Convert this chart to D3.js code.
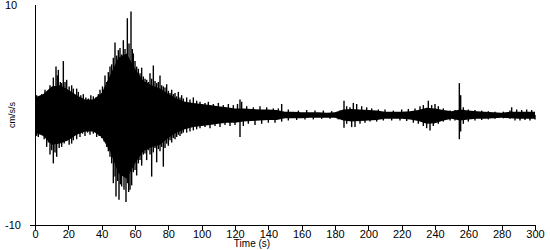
<!DOCTYPE html>
<html lang="en">
<head>
<meta charset="UTF-8">
<title>Acceleration record</title>
<script src="https://cdnjs.cloudflare.com/ajax/libs/d3/7.8.5/d3.min.js"></script>
<style>
  body { margin: 0; background: white; }
  text { font-family: "Liberation Sans", Arial, sans-serif; fill: black; }
</style>
</head>
<body>
<div id="chart"></div>
<script>
  const width = 550;
  const height = 250;

  // envelope of the dense black core, every 5 s
  const envTimes = d3.range(0, 301, 5);
  const envTop = [1.6, 1.9, 2.6, 2.7, 2.3, 1.8, 1.4, 1.4, 2.0, 3.6,
                  5.2, 5.6, 4.2, 3.1, 2.7, 2.4, 1.9, 1.5, 1.2, 1.1,
                  1.0, 0.9, 0.8, 0.7, 0.6, 0.6, 0.55, 0.5, 0.5, 0.45,
                  0.3, 0.3, 0.25, 0.25, 0.25, 0.2, 0.25, 0.5, 0.55, 0.5,
                  0.45, 0.4, 0.3, 0.3, 0.3, 0.35, 0.45, 0.65, 0.6, 0.45,
                  0.35, 0.5, 0.4, 0.35, 0.3, 0.25, 0.2, 0.3, 0.3, 0.3, 0.3];
  const envBottom = [-1.6, -1.9, -2.7, -2.6, -2.3, -1.8, -1.5, -1.5, -2.0, -3.3,
                     -5.3, -5.8, -4.4, -3.3, -2.9, -2.7, -2.1, -1.6, -1.3, -1.1,
                     -1.0, -0.9, -0.8, -0.7, -0.7, -0.6, -0.55, -0.5, -0.45, -0.45,
                     -0.3, -0.3, -0.3, -0.25, -0.25, -0.25, -0.25, -0.5, -0.6, -0.55,
                     -0.5, -0.45, -0.35, -0.35, -0.35, -0.4, -0.55, -0.8, -0.75, -0.5,
                     -0.35, -0.5, -0.4, -0.35, -0.35, -0.3, -0.25, -0.3, -0.35, -0.35, -0.35];

  // individual peaks [time, value]
  const peaks = [
    [1, 1.8], [2.5, 1.7], [4, 1.9], [6, 2.3], [7.5, 2.0], [9, 2.7], [10, 2.4], [11, 3.4],
    [12.6, 4.4], [13.4, 3.6], [14, 4.1], [15.2, 3.0], [16, 2.9], [17, 4.9], [18, 3.0],
    [19, 3.2], [20.5, 2.6], [22, 2.7], [23, 2.4], [25, 2.4], [26, 2.1], [27.5, 1.8],
    [29, 1.9], [30.5, 1.6], [32, 1.5], [33.5, 1.8], [35, 1.7], [36.5, 1.6], [38, 1.9],
    [39, 2.3], [40.5, 2.6], [42, 3.6], [43, 3.0], [44, 3.9], [45, 4.4],
    [46, 4.6], [47, 5.2], [48, 6.6], [49, 5.4], [50, 5.9], [51, 6.1], [52, 5.5], [53, 6.8],
    [54, 6.0], [55.4, 8.8], [56.4, 6.5], [57.6, 9.4], [58.4, 6.0], [59, 5.6], [60, 4.9],
    [61, 4.4], [62, 4.2], [63, 3.8], [64, 4.3], [65, 3.5],
    [66, 3.3], [67, 3.2], [68, 3.0], [69, 3.8], [70, 3.3], [71, 4.5], [72, 3.1], [73, 2.9],
    [74, 3.0], [75, 3.6], [76, 2.7], [77, 2.6], [78, 2.5], [79, 2.8], [80, 2.2], [81, 2.0],
    [82, 2.3], [83, 1.9], [84, 2.0], [85, 1.7], [86, 2.1], [87, 1.6], [88, 1.8], [89, 1.5],
    [91, 1.6], [93, 1.4], [95, 1.6], [97, 1.3], [99, 1.2], [102, 1.1], [104, 1.2], [107, 1.0],
    [110, 1.1], [113, 0.9], [116, 1.0], [119, 0.9], [121.5, 1.0], [123, 1.4], [124, 1.2],
    [127, 0.8], [131, 0.7], [135, 0.8], [139, 0.7], [143, 0.6], [146, 0.6], [148, 1.0],
    [152, 0.5], [158, 0.4], [163, 0.45], [168, 0.4], [173, 0.4], [178, 0.35], [183, 0.4],
    [185.4, 1.3], [187, 0.8], [189, 0.7], [191, 1.1], [193, 1.0], [196, 0.8], [199, 0.7],
    [202, 0.6], [206, 0.5], [210, 0.5], [215, 0.4], [220, 0.5], [224, 0.55], [228, 0.6],
    [231, 0.8], [233, 0.9], [236, 1.3], [238, 0.9], [240, 1.0], [242, 0.8], [245, 0.6],
    [249, 0.4], [252, 0.45], [254.6, 2.9], [255.4, 1.8], [257, 0.7], [260, 0.5], [264, 0.45],
    [268, 0.4], [272, 0.35], [276, 0.3], [281, 0.3], [285, 0.4], [286, 0.7], [289, 0.5],
    [292, 0.45], [295, 0.5], [298, 0.45]
  ];

  // individual troughs [time, value]
  const troughs = [
    [1, -1.9], [2, -2.0], [4, -1.8], [5.5, -2.2], [7, -2.9], [8, -2.5], [9, -3.6], [10, -3.2],
    [11, -4.4], [12, -3.4], [13, -3.8], [14.5, -3.0], [16, -2.9], [17.5, -2.6], [19, -2.3],
    [20.5, -2.7], [22, -2.6], [23, -2.3], [25, -2.2], [27, -2.0], [28.5, -1.7], [30, -1.9],
    [31.5, -1.6], [33, -1.8], [35, -1.7], [37, -2.0], [38.5, -1.9], [40, -2.1], [41.5, -2.4],
    [43, -2.9], [44, -3.3], [45, -3.8],
    [46, -4.4], [47, -6.2], [48, -5.6], [48.6, -7.4], [49.5, -6.0], [50.4, -7.7], [51.2, -6.3],
    [52, -6.5], [53.4, -6.8], [54.6, -7.9], [55.5, -6.2], [56.2, -7.0], [57, -6.8], [58, -6.4],
    [59, -5.2], [60, -5.0], [61, -5.5], [62, -4.4], [63, -4.1], [64, -4.6], [65, -3.6],
    [66, -3.5], [67, -4.1], [68, -3.2], [69, -3.6], [70, -5.6], [71, -3.4], [72, -3.0],
    [73, -4.3], [74, -3.1], [75, -3.3], [76, -2.9], [77, -4.7], [78, -3.0], [79, -2.6],
    [80, -2.8], [81, -2.3], [82, -2.5], [83, -2.1], [84, -2.2], [85, -2.0], [86, -1.8],
    [87, -1.9], [88, -1.7], [89, -1.6],
    [91, -1.6], [93, -1.5], [95, -1.4], [97, -1.3], [99, -1.2], [102, -1.1], [105, -1.2],
    [108, -1.0], [111, -1.1], [114, -0.9], [117, -1.0], [120, -0.9], [123, -2.0], [125, -1.0],
    [128, -0.8], [132, -0.9], [136, -0.8], [140, -0.7], [144, -0.7], [148, -0.6], [152, -0.5],
    [157, -0.45], [162, -0.4], [167, -0.4], [172, -0.35], [177, -0.35], [182, -0.4],
    [185.4, -1.15], [187, -0.8], [190, -1.1], [192, -1.1], [195, -0.8], [198, -0.7],
    [201, -0.6], [205, -0.6], [209, -0.5], [214, -0.5], [219, -0.5], [223, -0.55], [227, -0.7],
    [230, -0.8], [233, -1.0], [235, -1.2], [237, -1.4], [239, -1.0], [242, -0.8], [245, -0.6],
    [249, -0.5], [252, -0.5], [254.6, -2.2], [255.4, -1.5], [257, -0.8], [260, -0.6],
    [264, -0.5], [268, -0.45], [272, -0.4], [276, -0.35], [281, -0.3], [285, -0.35],
    [288, -0.5], [291, -0.5], [294, -0.45], [297, -0.5], [300, -0.4]
  ];

  const xTicks = d3.range(0, 301, 20);
  const yLabels = [10, -10];

  const x = d3.scaleLinear().domain([0, 300]).range([35, 535]);
  const y = d3.scaleLinear().domain([-10, 10]).range([225, 5]);

  const svg = d3.select('#chart').append('svg')
      .attr('width', width)
      .attr('height', height)
      .style('display', 'block');

  // core band
  const area = d3.area()
      .x((d, i) => x(envTimes[i]))
      .y0((d, i) => y(envBottom[i]))
      .y1((d, i) => y(envTop[i]));

  svg.append('path')
      .datum(envTimes)
      .attr('d', area)
      .attr('fill', 'black');

  // spikes
  svg.append('g')
      .attr('stroke', 'black')
      .attr('stroke-width', 1.4)
    .selectAll('line')
    .data(peaks.concat(troughs))
    .join('line')
      .attr('x1', d => x(d[0]))
      .attr('x2', d => x(d[0]))
      .attr('y1', y(0))
      .attr('y2', d => y(d[1]));

  // axes
  const xAxis = d3.axisBottom(x)
      .tickValues(xTicks)
      .tickSize(5)
      .tickSizeOuter(0)
      .tickPadding(0);

  const gx = svg.append('g')
      .attr('transform', `translate(0,${y(-10)})`)
      .call(xAxis);
  gx.select('.domain').remove();
  gx.selectAll('line').attr('stroke', 'black').attr('shape-rendering', 'crispEdges');
  gx.selectAll('text')
      .style('font-size', '11px')
      .style('font-family', '"Liberation Sans", Arial, sans-serif')
      .attr('fill', 'black');

  svg.append('line')
      .attr('x1', 30).attr('x2', x(300))
      .attr('y1', y(-10) + 0.5).attr('y2', y(-10) + 0.5)
      .attr('stroke', 'black')
      .attr('shape-rendering', 'crispEdges');

  svg.append('line')
      .attr('x1', x(0) + 0.5).attr('x2', x(0) + 0.5)
      .attr('y1', y(10)).attr('y2', y(-10))
      .attr('stroke', 'black')
      .attr('shape-rendering', 'crispEdges');

  svg.selectAll('.ylab')
    .data(yLabels)
    .join('text')
      .attr('class', 'ylab')
      .attr('x', 5)
      .attr('y', d => y(d) + 4)
      .style('font-size', '11px')
      .text(d => d);

  svg.append('text')
      .attr('transform', `translate(15,${y(0)}) rotate(-90)`)
      .attr('text-anchor', 'middle')
      .style('font-size', '9px')
      .text('cm/s/s');

  svg.append('text')
      .attr('x', 252)
      .attr('y', 247)
      .attr('text-anchor', 'middle')
      .style('font-size', '10px')
      .text('Time (s)');
</script>
</body>
</html>
